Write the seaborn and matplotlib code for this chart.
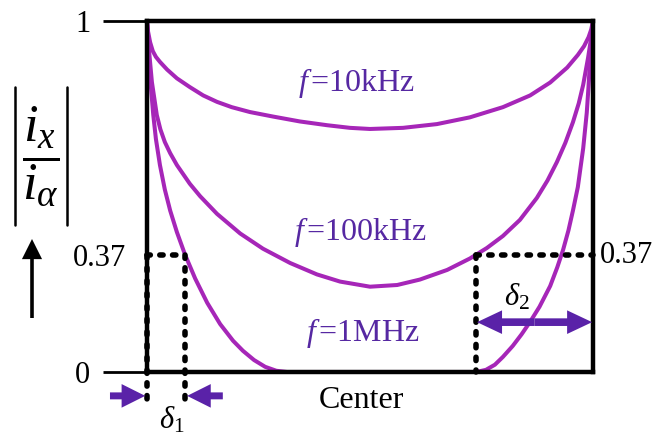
import numpy as np
import pandas as pd
import matplotlib
matplotlib.use("Agg")
import matplotlib.pyplot as plt
import seaborn as sns
from matplotlib.patches import FancyArrowPatch
from matplotlib.lines import Line2D

# Normalised position across the conductor (0 = left surface, 1 = right surface)
# and relative current amplitude |i_x / i_alpha| for three frequencies.
pos_10k = [0, 0.002, 0.007, 0.013, 0.020, 0.029, 0.045, 0.067, 0.096, 0.126,
           0.157, 0.190, 0.231, 0.283, 0.343, 0.404, 0.455, 0.5, 0.574, 0.650,
           0.724, 0.798, 0.859, 0.904, 0.942, 0.966, 0.980, 0.990, 0.996, 1.0]
amp_10k = [1.0, 0.975, 0.945, 0.922, 0.907, 0.894, 0.874, 0.851, 0.828, 0.806,
           0.789, 0.775, 0.762, 0.750, 0.737, 0.727, 0.720, 0.717, 0.720, 0.730,
           0.748, 0.775, 0.806, 0.840, 0.879, 0.912, 0.935, 0.958, 0.978, 1.0]

pos_100k = [0, 0.004, 0.011, 0.022, 0.030, 0.040, 0.052, 0.067, 0.096, 0.119,
            0.157, 0.209, 0.260, 0.321, 0.381, 0.433, 0.5, 0.561, 0.612, 0.673,
            0.724, 0.762, 0.798, 0.836, 0.874, 0.898, 0.919, 0.938, 0.955, 0.968,
            0.978, 0.989, 0.995, 1.0]
amp_100k = [1.0, 0.930, 0.841, 0.754, 0.716, 0.682, 0.652, 0.620, 0.569, 0.535,
            0.486, 0.431, 0.388, 0.347, 0.314, 0.293, 0.278, 0.283, 0.299, 0.327,
            0.360, 0.390, 0.424, 0.469, 0.530, 0.578, 0.628, 0.680, 0.735, 0.785,
            0.834, 0.905, 0.950, 1.0]

pos_1M = [0, 0.002, 0.005, 0.009, 0.014, 0.020, 0.029, 0.040, 0.052, 0.067,
          0.085, 0.108, 0.135, 0.164, 0.193, 0.215, 0.240, 0.265, 0.290, 0.314,
          0.738, 0.760, 0.780, 0.798, 0.820, 0.840, 0.859, 0.880, 0.904, 0.920,
          0.933, 0.945, 0.955, 0.966, 0.978, 0.986, 0.990, 0.994, 0.997, 1.0]
amp_1M = [1.0, 0.955, 0.890, 0.825, 0.755, 0.690, 0.620, 0.553, 0.495, 0.435,
          0.372, 0.302, 0.230, 0.165, 0.112, 0.079, 0.047, 0.022, 0.006, 0.0,
          0.0, 0.010, 0.030, 0.058, 0.095, 0.133, 0.172, 0.218, 0.280, 0.335,
          0.385, 0.440, 0.495, 0.560, 0.665, 0.760, 0.830, 0.910, 0.955, 1.0]

freq_labels = [r"$f\,$=10kHz", r"$f\,$=100kHz", r"$f\,$=1MHz"]
level = 0.37          # 1/e level
delta1_pos = 0.085    # where the 1 MHz curve falls to 1/e
delta2_pos = 0.738    # where the 100 kHz curve rises through 1/e

sns.set_theme(style="white")
plt.rcParams["font.family"] = ["Liberation Serif", "DejaVu Serif"]
plt.rcParams["mathtext.fontset"] = "custom"
plt.rcParams["mathtext.rm"] = "Liberation Serif"
plt.rcParams["mathtext.it"] = "Liberation Serif:italic"
plt.rcParams["mathtext.bf"] = "Liberation Serif:bold"

curve_color = "#A626B8"
text_color = "#5628A2"
arrow_color = "#5A22A8"

df = pd.concat([
    pd.DataFrame({"pos": pos_10k, "amp": amp_10k, "freq": freq_labels[0]}),
    pd.DataFrame({"pos": pos_100k, "amp": amp_100k, "freq": freq_labels[1]}),
    pd.DataFrame({"pos": pos_1M, "amp": amp_1M, "freq": freq_labels[2]}),
])

fig = plt.figure(figsize=(6.53, 4.34), dpi=100)
ax = fig.add_axes([147 / 653, 62 / 434, 446 / 653, 351 / 434])

sns.lineplot(data=df, x="pos", y="amp", hue="freq", palette=[curve_color] * 3,
             estimator=None, sort=False, legend=False, lw=2.9, ax=ax, zorder=2)
for ln in ax.get_lines():
    ln.set_solid_joinstyle("round")

# schematic amplitude axis: mild power stretch, sign preserving
P = 1.105
def fwd(y):
    y = np.asarray(y, dtype=float)
    return np.sign(y) * np.abs(y) ** P
def inv(y):
    y = np.asarray(y, dtype=float)
    return np.sign(y) * np.abs(y) ** (1 / P)
ax.set_yscale("function", functions=(fwd, inv))
ax.set_xlim(0, 1)
ax.set_ylim(0, 1)
ax.set_xlabel("")
ax.set_ylabel("")
ax.set_xticks([])

for s in ax.spines.values():
    s.set_linewidth(3.2)
    s.set_color("black")
    s.set_zorder(3)

ax.set_yticks([0, 1])
ax.set_yticklabels(["0", "1"])
ax.yaxis.set_minor_locator(matplotlib.ticker.FixedLocator([level]))
ax.yaxis.set_minor_formatter(matplotlib.ticker.FixedFormatter(["0.37"]))
ax.tick_params(axis="y", which="major", direction="out", length=31.7, width=2,
               color="black", pad=9, labelsize=22, left=True, right=False)
ax.tick_params(axis="y", which="minor", length=0, pad=15, labelsize=22,
               left=True, right=False)
for lab in ax.get_yticklabels() + ax.get_yticklabels(minor=True):
    lab.set_color("black")

ax.annotate("0.37", xy=(1, level), xycoords=("axes fraction", "data"),
            xytext=(5, 0), textcoords="offset points", ha="left", va="center",
            fontsize=22, color="black")

# 1/e construction lines
dash = dict(color="black", lw=4.0, linestyle=(0, (0.6, 1.7)), dash_capstyle="round",
            clip_on=False, zorder=4)
y_below = float(inv(-0.090))
ax.plot([0, delta1_pos], [level, level], **dash)
ax.plot([0, 0], [level, y_below], **dash)
ax.plot([delta1_pos, delta1_pos], [level, y_below], **dash)
ax.plot([delta2_pos, 1], [level, level], **dash)
ax.plot([delta2_pos, delta2_pos], [level, 0], **dash)

def arrow(x0, y0, x1, y1, coords, color, hw, hl, tw):
    a = FancyArrowPatch((x0, y0), (x1, y1),
                        arrowstyle=f"simple,head_width={hw},head_length={hl},tail_width={tw}",
                        mutation_scale=1, shrinkA=0, shrinkB=0, lw=0,
                        color=color, clip_on=False, zorder=5)
    if coords is not None:
        a.set_transform(coords)
    return a

blend = matplotlib.transforms.blended_transform_factory(ax.transData, ax.transAxes)
y_arr1 = -0.068
ax.add_patch(arrow(-0.083, y_arr1, -0.004, y_arr1, blend, arrow_color, 17, 17, 5))
ax.add_patch(arrow(0.170, y_arr1, delta1_pos + 0.005, y_arr1, blend, arrow_color, 17, 17, 5))
y_arr2 = 0.142
mid2 = (delta2_pos + 1) / 2
ax.add_patch(arrow(mid2, y_arr2, delta2_pos + 0.002, y_arr2, blend, arrow_color, 17, 18, 5.5))
ax.add_patch(arrow(mid2, y_arr2, 0.998, y_arr2, blend, arrow_color, 17, 18, 5.5))

ax.text(0.056, -0.137, r"$\delta_1$", transform=blend, ha="center", va="center",
        fontsize=22, color="black")
ax.text(0.830, 0.214, r"$\delta_2$", transform=blend, ha="center", va="center",
        fontsize=22, color="black")

# frequency labels
for lab, (tx, ty) in zip(freq_labels, [(0.469, 0.823), (0.478, 0.399), (0.484, 0.111)]):
    ax.text(tx, ty, lab, transform=ax.transAxes, ha="center", va="center",
            fontsize=23, color=text_color)

ax.text(0.480, -0.080, "Center", transform=ax.transAxes, ha="center", va="center",
        fontsize=23, color="black")

# amplitude ratio label (fraction between two bars) and upward arrow
fig.text(41 / 653, 1 - 157 / 434, r"$\dfrac{i_x}{i_\alpha}$",
         ha="center", va="center", fontsize=38, color="black")
for bx in (15, 67):
    fig.add_artist(Line2D([bx / 653, bx / 653], [1 - 87 / 434, 1 - 225 / 434],
                          transform=fig.transFigure, color="black", lw=1.8))
fig.add_artist(FancyArrowPatch((32, 434 - 318), (32, 434 - 239),
                               arrowstyle="simple,head_width=14.5,head_length=14.5,tail_width=2.6",
                               mutation_scale=1, shrinkA=0, shrinkB=0, lw=0,
                               color="black", transform=None))

fig.savefig("out.png", dpi=100)
